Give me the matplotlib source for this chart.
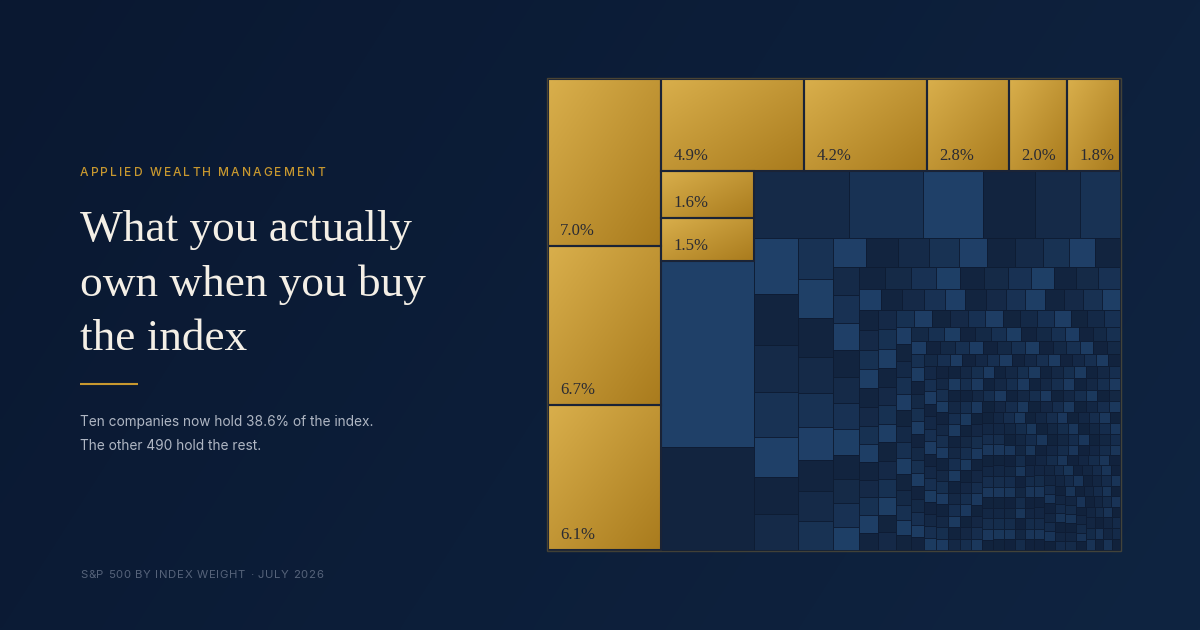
import numpy as np
import matplotlib
matplotlib.use("Agg")
import matplotlib.pyplot as plt
from matplotlib.patches import Rectangle
from matplotlib.colors import to_rgb

# ---------------- data ----------------
top10_weights = [7.0, 6.7, 6.1, 4.9, 4.2, 2.8, 2.0, 1.8, 1.6, 1.5]

others_head = [
    6.40, 3.53, 2.35, 1.81, 1.47, 1.30, 1.10, 0.98,
    0.91, 0.83, 0.77, 0.72, 0.65, 0.61, 0.58,
    0.553, 0.516, 0.513, 0.476, 0.46, 0.43, 0.42, 0.39, 0.39,
    0.35, 0.349, 0.334, 0.319, 0.309, 0.305, 0.295, 0.286, 0.28, 0.27,
    0.268, 0.265, 0.26, 0.255, 0.25, 0.246, 0.242, 0.236, 0.228, 0.224, 0.218,
    0.212, 0.208, 0.204, 0.200, 0.196, 0.193, 0.190, 0.186, 0.182, 0.179, 0.176,
    0.173, 0.170, 0.168, 0.166, 0.163, 0.161, 0.158, 0.156, 0.154, 0.152, 0.150, 0.148,
    0.146, 0.144, 0.142, 0.140, 0.138, 0.136, 0.134, 0.132, 0.130, 0.128, 0.127, 0.126,
    0.127, 0.126, 0.125, 0.124, 0.123, 0.122, 0.121, 0.120, 0.119, 0.118, 0.117, 0.116, 0.115,
    0.114, 0.113, 0.112, 0.111, 0.110, 0.109, 0.108, 0.107, 0.106, 0.105, 0.104, 0.103, 0.102,
    0.101, 0.100, 0.099, 0.098, 0.097, 0.096, 0.095, 0.094, 0.093, 0.092, 0.091, 0.090, 0.089,
    0.088, 0.087, 0.086, 0.085, 0.084, 0.083, 0.082, 0.081, 0.080, 0.079, 0.078, 0.077, 0.076,
]

others_tail = [
    .072, .072, .072, .072,
    .070, .070, .070, .070,
    .068, .068, .068, .068, .068,
    .066, .066, .066, .066, .066,
    .064, .064, .064, .064, .064, .064,
    .062, .062, .062, .062, .062, .062,
    .060, .060, .060, .060, .060, .060,
    .058, .058, .058, .058, .058, .058, .058,
    .056, .056, .056, .056, .056, .056, .056,
    .054, .054, .054, .054, .054, .054, .054, .054,
    .052, .052, .052, .052, .052, .052, .052, .052,
    .052, .052, .052, .052, .052, .052, .052, .052, .052, .052, .052, .052, .052, .052, .052,
    .051, .051, .051, .051, .051, .051, .051, .051, .051, .051, .051, .051, .051, .051, .051,
    .050, .050, .050, .050, .050, .050, .050, .050, .050, .050, .050, .050, .050, .050, .050,
    .049, .049, .049, .049, .049, .049, .049, .049, .049, .049, .049, .049, .049, .049, .049,
    .048, .048, .048, .048, .048, .048, .048, .048, .048, .048, .048, .048, .048, .048, .048,
    .047, .047, .047, .047, .047, .047, .047, .047, .047, .047, .047, .047, .047, .047, .047,
    .046, .046, .046, .046, .046, .046, .046, .046, .046, .046, .046, .046, .046, .046, .046,
    .045, .045, .045, .045, .045, .045, .045, .045, .045, .045, .045, .045, .045, .045, .045,
    .044, .044, .044, .044, .044, .044, .044, .044, .044, .044, .044, .044, .044, .044, .044,
    .043, .043, .043, .043, .043, .043, .043, .043, .043, .043, .043, .043, .043, .043, .043,
    .042, .042, .042, .042, .042, .042, .042, .042, .042, .042, .042, .042, .042, .042, .042,
    .041, .041, .041, .041, .041, .041, .041, .041, .041, .041, .041, .041, .041, .041, .041,
    .040, .040, .040, .040, .040, .040, .040, .040, .040, .040, .040, .040, .040, .040, .040,
    .039, .039, .039, .039, .039, .039, .039, .039, .039, .039, .039, .039, .039, .039, .039,
    .038, .038, .038, .038, .038, .038, .038, .038, .038, .038, .038, .038, .038, .038, .038,
    .037, .037, .037, .037, .037, .037, .037, .037, .037, .037, .037, .037, .037, .037, .037,
    .036, .036, .036, .036, .036, .036, .036, .036, .036, .036, .036, .036, .036, .036, .036,
    .035, .035, .035, .035, .035, .035, .035, .035, .035, .035, .035, .035, .035, .035, .035,
    .034, .034, .034, .034, .034, .034, .034, .034, .034, .034, .034,
    .034, .034, .034, .034, .034, .034, .034, .034, .034, .034, .034,
]

brand = "APPLIED WEALTH MANAGEMENT"
title_lines = ["What you actually", "own when you buy", "the index"]
subtitle_lines = ["Ten companies now hold 38.6% of the index.",
                  "The other 490 hold the rest."]
footer = "S&P 500 BY INDEX WEIGHT \u00b7 JULY 2026"

# ---------------- style ----------------
W, H = 1200, 630
GOLD_LIGHT, GOLD_DARK = "#D9AF4C", "#A97B1D"
BLUE_CYCLE = ["#1F4068", "#12243F", "#152A48", "#183254"]
BLUE_FADE = "#0F1F38"
SERIF = "Liberation Serif"
SANS = "Inter"


def squarify(values, x0, y0, x1, y1, ratio=1.0):
    """Squarified treemap (d3-style), returns list of (x, y, w, h)."""
    rects = []
    value = float(sum(values))
    n = len(values)
    i0 = i1 = 0
    while i0 < n:
        dx, dy = x1 - x0, y1 - y0
        s = values[i1]
        i1 += 1
        vmin = vmax = s
        alpha = max(dy / dx, dx / dy) / (value * ratio)
        beta = s * s * alpha
        min_ratio = max(vmax / beta, beta / vmin)
        while i1 < n:
            v = values[i1]
            s += v
            vmin, vmax = min(vmin, v), max(vmax, v)
            beta = s * s * alpha
            r = max(vmax / beta, beta / vmin)
            if r > min_ratio:
                s -= v
                break
            min_ratio = r
            i1 += 1
        row = values[i0:i1]
        if dx < dy:
            ny = y0 + dy * s / value if value else y1
            cx = x0
            for v in row:
                w = dx * v / s
                rects.append((cx, y0, w, ny - y0))
                cx += w
            y0 = ny
        else:
            nx = x0 + dx * s / value if value else x1
            cy = y0
            for v in row:
                h = dy * v / s
                rects.append((x0, cy, nx - x0, h))
                cy += h
            x0 = nx
        value -= s
        i0 = i1
    return rects


fig = plt.figure(figsize=(W / 100, H / 100), dpi=100)
ax = fig.add_axes([0, 0, 1, 1])
ax.axis("off")

# background gradient
c0, c1 = np.array(to_rgb("#0A1831")), np.array(to_rgb("#0F2441"))
gx, gy = np.meshgrid(np.linspace(0, 1, 300), np.linspace(0, 1, 160))
t = np.clip(gx * 0.75 + gy * 0.25, 0, 1)
ax.imshow(c0 + (c1 - c0) * t[..., None], extent=(0, W, H, 0), aspect="auto",
          zorder=0, interpolation="bilinear")

# treemap
TX0, TY0, TX1, TY1 = 548, 79, 1120, 550
all_weights = top10_weights + others_head + others_tail
rects = squarify(all_weights, TX0, TY0, TX1, TY1)

fade = np.array(to_rgb(BLUE_FADE))
blue_rects = rects[10:]
nb = len(blue_rects)
for k, (x, y, w, h) in enumerate(blue_rects):
    base = np.array(to_rgb(BLUE_CYCLE[k % 4]))
    b = 0.4 * k / (nb - 1)
    shade = base * (1 - b) + fade * b
    ax.add_patch(Rectangle((x, y), w, h, facecolor=shade, edgecolor="#0E1C33",
                           linewidth=0.6, zorder=2))

g0, g1 = np.array(to_rgb(GOLD_LIGHT)), np.array(to_rgb(GOLD_DARK))
ux, uy = np.meshgrid(np.linspace(0, 1, 60), np.linspace(0, 1, 60))
gt = (ux + uy) / 2
gimg = g0 + (g1 - g0) * gt[..., None]
for k in range(10):
    x, y, w, h = rects[k]
    ax.imshow(gimg, extent=(x, x + w, y + h, y), aspect="auto", zorder=3,
              interpolation="bilinear")
    ax.add_patch(Rectangle((x, y), w, h, fill=False, edgecolor="#1A2336",
                           linewidth=1.5, zorder=4))
    ax.text(x + 12, y + h - 11, f"{top10_weights[k]:.1f}%", family=SERIF,
            fontsize=12, color="#2A2B33", ha="left", va="baseline", zorder=5)

# outer frame
ax.add_patch(Rectangle((TX0 - 1, TY0 - 1), TX1 - TX0 + 2, TY1 - TY0 + 2, fill=False,
                       edgecolor="#C9992E", alpha=0.28, linewidth=1.0, zorder=5))

ax.set_xlim(0, W)
ax.set_ylim(H, 0)

renderer = fig.canvas.get_renderer()


def text_width(s, **kw):
    tt = ax.text(0, 100, s, **kw)
    bb = tt.get_window_extent(renderer=renderer)
    tt.remove()
    return bb.width


def spaced_text(x, y, s, target_width, **kw):
    ref = text_width("HH", **kw)
    adv = [text_width("H" + c + "H", **kw) - ref for c in s]
    natural = sum(adv[:-1]) + text_width(s[-1], **kw)
    track = (target_width - natural) / (len(s) - 1)
    cx = x
    for c, a in zip(s, adv):
        if c != " ":
            ax.text(cx, y, c, ha="left", va="baseline", **kw)
        cx += a + track


def fit_size(s, target, base=30, **kw):
    return base * target / text_width(s, fontsize=base, **kw)


# brand line
spaced_text(80, 176, brand, 245, family=SANS, fontsize=8.6, color="#C8982F",
            fontweight="medium")

# title
tsize = fit_size(title_lines[0], 332, family=SERIF)
for line, yb in zip(title_lines, [241, 296, 350]):
    ax.text(80, yb, line, family=SERIF, fontsize=tsize, color="#F4EFE6",
            ha="left", va="baseline")

# divider
ax.plot([80, 137.5], [384.3, 384.3], color="#C8982F", linewidth=1.5,
        solid_capstyle="butt")

# subtitle
ssize = fit_size(subtitle_lines[0], 294, family=SANS)
for line, yb in zip(subtitle_lines, [426, 450]):
    ax.text(80, yb, line, family=SANS, fontsize=ssize, color="#AFB6C3",
            ha="left", va="baseline")

# footer
spaced_text(80, 578.5, footer, 243, family=SANS, fontsize=8.2, color="#56637A")

fig.savefig("out.png", dpi=100, facecolor="#0B1A33")
